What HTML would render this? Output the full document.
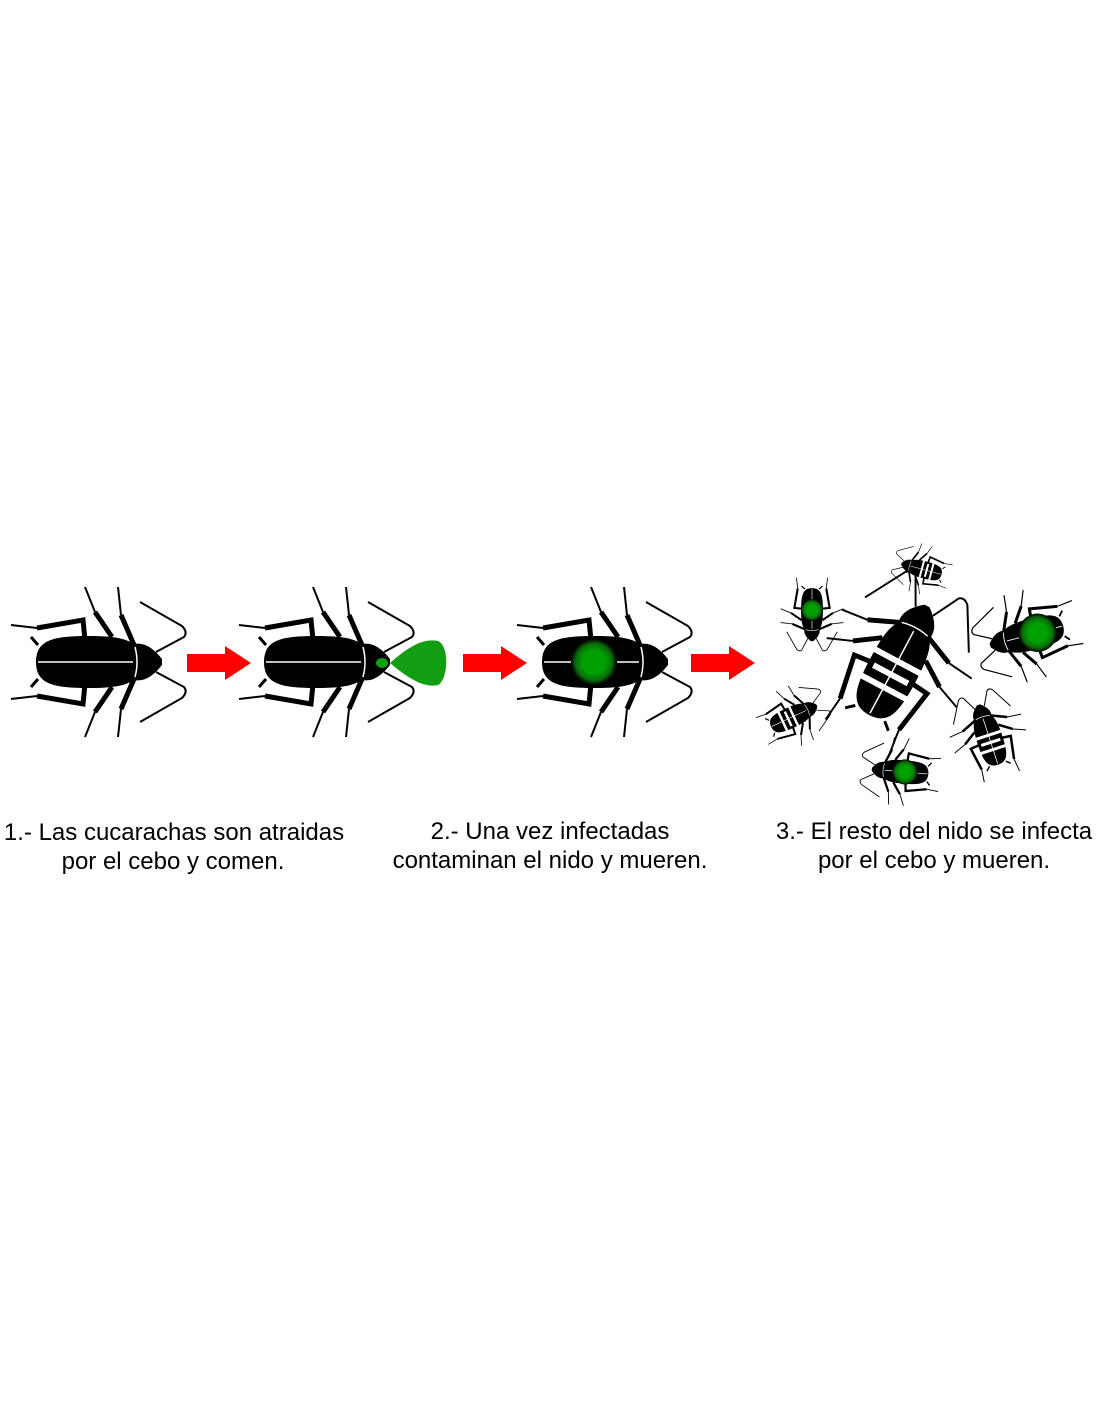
<!DOCTYPE html>
<html><head><meta charset="utf-8"><style>
html,body{margin:0;padding:0;background:#fff;width:1100px;height:1422px;overflow:hidden}
svg{display:block}
</style></head><body>
<svg width="1100" height="1422" viewBox="0 0 1100 1422" xmlns="http://www.w3.org/2000/svg">
<defs>
<radialGradient id="g" cx="0.5" cy="0.5" r="0.5">
<stop offset="0" stop-color="#00a000"/><stop offset="0.5" stop-color="#00a000"/><stop offset="0.8" stop-color="#0b6a0b"/><stop offset="1" stop-color="#000"/>
</radialGradient>
<g id="half">
<polyline points="-3,-22 -5,-42 -51,-34" fill="none" stroke="#000" stroke-width="5"/>
<line x1="-51" y1="-34" x2="-77" y2="-37" stroke="#000" stroke-width="2"/>
<polyline points="24,-25 7,-50" fill="none" stroke="#000" stroke-width="5"/>
<line x1="7" y1="-50" x2="-3" y2="-75" stroke="#000" stroke-width="2"/>
<polyline points="46,-17 33,-47" fill="none" stroke="#000" stroke-width="5"/>
<line x1="33" y1="-47" x2="30" y2="-75" stroke="#000" stroke-width="2"/>
<path d="M68,-10 L96,-25 Q100,-30 94,-36 L52,-60" fill="none" stroke="#000" stroke-width="2"/>
<line x1="-50" y1="-17" x2="-57" y2="-25" stroke="#000" stroke-width="3"/>
</g>
<g id="roach">
<use href="#half"/>
<use href="#half" transform="scale(1,-1)"/>
<path d="M-52,0 C-52,-22 -35,-26 0,-26 C35,-26 53,-22 53,0 C53,22 35,26 0,26 C-35,26 -52,22 -52,0 Z" fill="#000"/>
<path d="M46,-18 Q60,-21 74,-3 L74,3 Q60,21 46,18 Z" fill="#000"/>
<line x1="-50" y1="0" x2="45" y2="0" stroke="#fff" stroke-width="1.5"/>
<path d="M47,-15 Q51,0 47,15" fill="none" stroke="#fff" stroke-width="1.5"/>
</g>
<g id="dead">
<use href="#roach"/>
<g stroke="#fff" stroke-width="6"><line x1="-20" y1="-26" x2="-20" y2="26"/><line x1="10" y1="-26" x2="10" y2="26"/><line x1="-5" y1="-20" x2="-5" y2="20"/></g>
</g>
<g id="arrow"><polygon points="0,-9 38,-9 38,-17 64,0 38,17 38,9 0,9" fill="#f00"/></g>
</defs>
<use href="#roach" transform="translate(88,662)"/>
<use href="#arrow" transform="translate(187,663)"/>
<use href="#roach" transform="translate(316,662)"/>
<path d="M390,663 C410,645 425,638 438,641 C450,646 448,680 438,685 C425,688 410,680 390,663 Z" fill="#129e12"/>
<ellipse cx="382" cy="663" rx="6" ry="5" fill="#129e12"/>
<use href="#arrow" transform="translate(463,663)"/>
<use href="#roach" transform="translate(594,662)"/>
<circle cx="594" cy="662" r="23" fill="url(#g)"/>
<use href="#arrow" transform="translate(691,663)"/>

<g transform="translate(812,610) rotate(90) scale(0.42)"><use href="#roach"/><circle cx="0" cy="0" r="26" fill="url(#g)"/></g>
<use href="#dead" transform="translate(925,570) rotate(195) scale(0.33)"/>
<use href="#dead" transform="translate(893,670) rotate(-62) scale(0.98)"/>
<g transform="translate(1033,634) rotate(165) scale(0.6)"><use href="#roach"/><circle cx="-8" cy="0" r="32" fill="url(#g)"/></g>
<use href="#dead" transform="translate(790,718) rotate(-25) scale(0.4)"/>
<use href="#dead" transform="translate(990,740) rotate(-108) scale(0.5)"/>
<g transform="translate(905,772) rotate(185) scale(0.45)"><use href="#roach"/><circle cx="0" cy="0" r="28" fill="url(#g)"/></g>

<g font-family="Liberation Sans, sans-serif" font-size="24" fill="#000" text-anchor="middle">
<text x="174" y="840">1.- Las cucarachas son atraidas</text>
<text x="173" y="869">por el cebo y comen.</text>
<text x="550" y="839">2.- Una vez infectadas</text>
<text x="550" y="868">contaminan el nido y mueren.</text>
<text x="934" y="839">3.- El resto del nido se infecta</text>
<text x="934" y="868">por el cebo y mueren.</text>
</g>
</svg>
</body></html>
